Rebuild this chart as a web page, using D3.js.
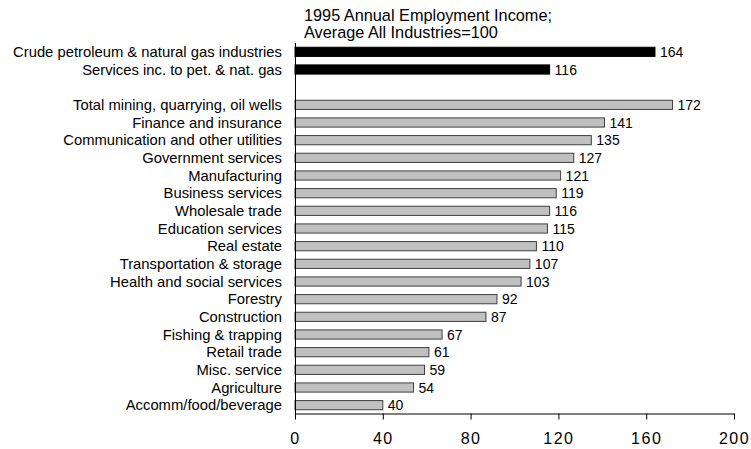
<!DOCTYPE html>
<html><head><meta charset="utf-8">
<script src="https://cdn.jsdelivr.net/npm/d3@7"></script>
<style>body{margin:0;background:#fff}svg{display:block}text{font-family:"Liberation Sans",Arial,sans-serif;fill:#000}</style>
</head><body><svg id="c" width="751" height="449"></svg>
<script>
const categories = ["Crude petroleum & natural gas industries","Services inc. to pet. & nat. gas","",
"Total mining, quarrying, oil wells","Finance and insurance","Communication and other utilities","Government services","Manufacturing","Business services","Wholesale trade","Education services","Real estate","Transportation & storage","Health and social services","Forestry","Construction","Fishing & trapping","Retail trade","Misc. service","Agriculture","Accomm/food/beverage"];
const values = [164,116,null,172,141,135,127,121,119,116,115,110,107,103,92,87,67,61,59,54,40];
const highlight = [true,true,false,false,false,false,false,false,false,false,false,false,false,false,false,false,false,false,false,false,false];
const xTicks = [0,40,80,120,160,200];
const titleLines = ["1995 Annual Employment Income;","Average All Industries=100"];

const svg = d3.select("#c");
const x = d3.scaleLinear().domain([0,200]).range([295,734]);
const y = d3.scaleBand().domain(d3.range(categories.length)).range([43,414]).paddingInner(0.48).paddingOuter(0.24);

svg.append("g").selectAll("text").data(titleLines).join("text")
  .attr("x",304).attr("y",(d,i)=>20.7+i*16.8).attr("font-size",16.3).text(d=>d);

const rows = d3.range(categories.length).filter(i=>values[i]!=null);
svg.append("g").selectAll("rect").data(rows).join("rect")
  .attr("x",x(0)).attr("y",i=>y(i)).attr("width",i=>x(values[i])-x(0)).attr("height",y.bandwidth())
  .attr("fill",i=>highlight[i]?"#000":"#c0c0c0")
  .attr("stroke",i=>highlight[i]?"#000":"#404040").attr("stroke-width",1);

svg.append("g").selectAll("text").data(rows).join("text")
  .attr("x",i=>x(values[i])+5).attr("y",i=>y(i)+y.bandwidth()/2).attr("dy","0.36em")
  .attr("font-size",14).text(i=>values[i]);

svg.append("g").selectAll("text").data(rows).join("text")
  .attr("x",282).attr("y",i=>y(i)+y.bandwidth()/2).attr("dy","0.36em").attr("text-anchor","end")
  .attr("font-size",14.8).text(i=>categories[i]);

// axes
svg.append("line").attr("x1",295.5).attr("x2",295.5).attr("y1",43).attr("y2",414).attr("stroke","#000");
const xa = svg.append("g").attr("transform","translate(0,413.5)")
  .call(d3.axisBottom(x).tickValues(xTicks).tickSize(6).tickSizeOuter(0).tickFormat(d3.format("d")));
xa.select(".domain").attr("stroke","#000");
xa.selectAll("text").attr("font-size",16).attr("dy",0).attr("y",30).style("letter-spacing","1.5px")
  .attr("font-family","'Liberation Sans',Arial,sans-serif");
</script></body></html>
